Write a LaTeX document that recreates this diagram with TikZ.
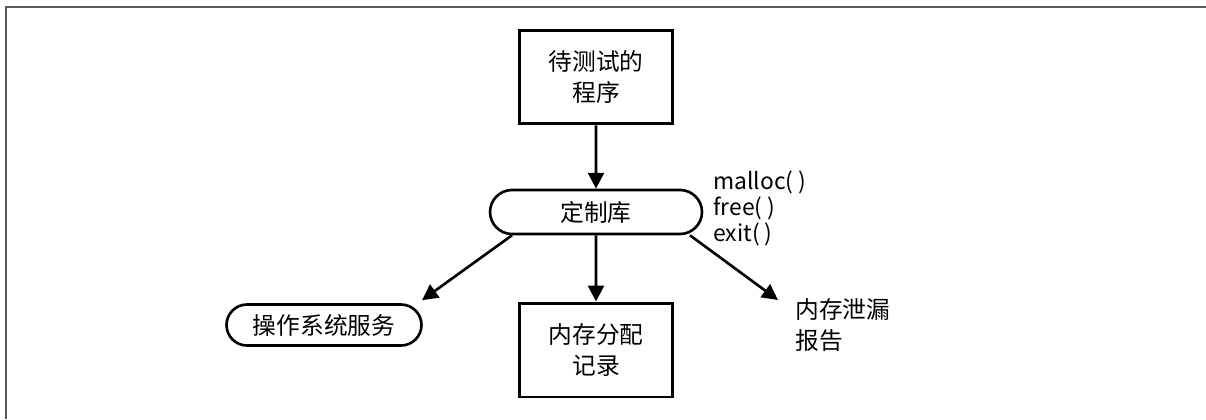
\documentclass[tikz,border=0pt]{standalone}
\usepackage{fontspec}
\setmainfont{Noto Sans CJK SC}
\usetikzlibrary{arrows.meta,shapes.misc,calc}
\tikzset{
  box/.style={draw,line width=1.7pt,minimum width=3.05cm,minimum height=1.88cm,align=center,font=\fontsize{13.5}{18}\selectfont},
  pill/.style={draw,line width=1.5pt,rounded rectangle,inner sep=0pt,font=\fontsize{13.5}{18}\selectfont},
  arr/.style={line width=1.5pt,-{Triangle[length=9pt,width=9pt]}},
}
\begin{document}
\begin{tikzpicture}[x=0.02cm,y=-0.02cm]
\useasboundingbox (0,0) rectangle (1206,419);
% frame
\draw [line width=1.2pt,color=black!65](6,419) -- (6,7) -- (1206,7);
% nodes
\node [box] (prog) at (596,77) {待测试的\\程序};
\node [pill,minimum width=4.24cm,minimum height=0.88cm] (lib) at (596,212) {定制库};
\node [pill,minimum width=3.9cm,minimum height=0.82cm] (os) at (324,325) {操作系统服务};
\node [box] (rec) at (596,350) {内存分配\\记录};
\node [anchor=north west,inner sep=0pt,align=left,font=\fontsize{13.5}{18}\selectfont] (leak) at (795,298) {内存泄漏\\报告};
\node [anchor=north west,inner sep=0pt,align=left,font=\fontsize{13}{14.8}\selectfont] (calls) at (713,170) {malloc( )\\free( )\\exit( )};
% arrows
\draw [arr](prog) -- (lib);
\draw [arr](lib) -- (rec);
\draw [arr]($(lib.south)+(-84,0)$) -- ($(os.north)+(98,-3)$);
\draw [arr]($(lib.south)+(94,0)$) -- ($(leak.north west)+(-17,2)$);
\end{tikzpicture}
\end{document}
